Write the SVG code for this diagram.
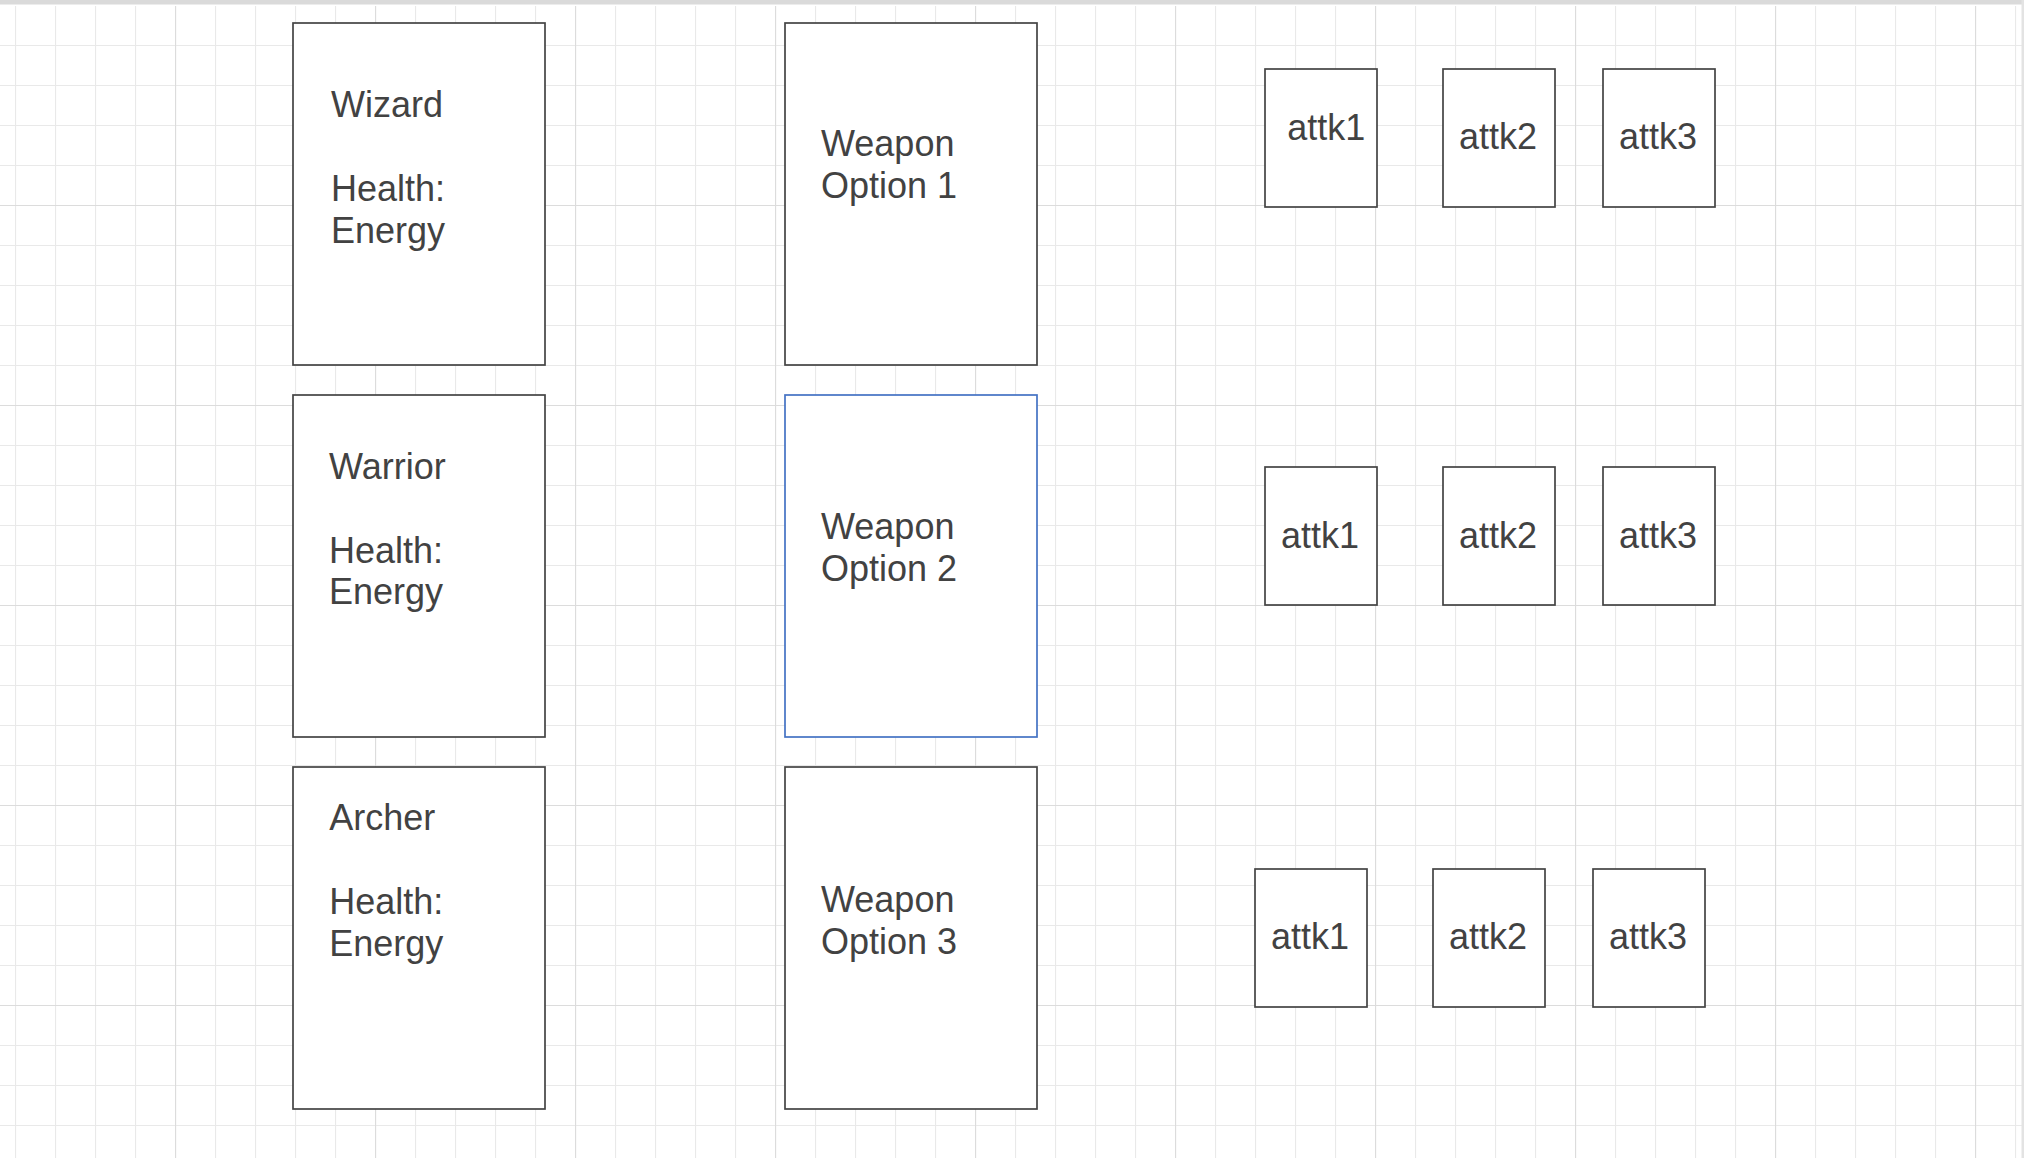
<svg xmlns="http://www.w3.org/2000/svg" width="2024" height="1158" viewBox="0 0 2024 1158">
  <style>
    .box { fill: #ffffff; stroke: #444444; stroke-width: 1.7; }
    .sel { fill: #ffffff; stroke: #4472c4; stroke-width: 1.7; }
    .lbl { font-family: "Liberation Sans", Arial, sans-serif; font-size: 36px; fill: #424242; }
  </style>
  <defs>
    <pattern id="minor" patternUnits="userSpaceOnUse" x="15" y="5" width="40" height="40">
      <path d="M0.5 0 V40 M0 0.5 H40" fill="none" stroke="#e9e9e9" stroke-width="1.2"/>
    </pattern>
    <pattern id="major" patternUnits="userSpaceOnUse" x="175" y="205" width="200" height="200">
      <path d="M0.5 0 V200 M0 0.5 H200" fill="none" stroke="#dcdcdc" stroke-width="1.2"/>
    </pattern>
  </defs>

  <rect x="0" y="0" width="2024" height="1158" fill="#ffffff"/>
  <g id="grid">
    <rect x="0" y="6" width="2024" height="1152" fill="url(#minor)"/>
    <rect x="0" y="6" width="2024" height="1152" fill="url(#major)"/>
    <rect x="0" y="0" width="2024" height="4.5" fill="#dadada"/>
    <rect x="2021.5" y="0" width="2.5" height="1158" fill="#e3e3e3"/>
  </g>

  <g id="connectors"></g>

  <g id="wizard">
    <rect class="box" x="293" y="23" width="252" height="342"/>
    <text class="lbl" x="331" y="117.3">Wizard</text>
    <text class="lbl" x="331" y="201">Health:</text>
    <text class="lbl" x="331" y="243.3">Energy</text>
  </g>
  <g id="warrior">
    <rect class="box" x="293" y="395" width="252" height="342"/>
    <text class="lbl" x="329" y="478.5">Warrior</text>
    <text class="lbl" x="329" y="562.5">Health:</text>
    <text class="lbl" x="329" y="604">Energy</text>
  </g>
  <g id="archer">
    <rect class="box" x="293" y="767" width="252" height="342"/>
    <text class="lbl" x="329.3" y="830">Archer</text>
    <text class="lbl" x="329.3" y="914">Health:</text>
    <text class="lbl" x="329.3" y="956">Energy</text>
  </g>

  <g id="weapon1">
    <rect class="box" x="785" y="23" width="252" height="342"/>
    <text class="lbl" x="821" y="156">Weapon</text>
    <text class="lbl" x="821" y="198.3">Option 1</text>
  </g>
  <g id="weapon2">
    <rect class="sel" x="785" y="395" width="252" height="342"/>
    <text class="lbl" x="821" y="539.3">Weapon</text>
    <text class="lbl" x="821" y="581.3">Option 2</text>
  </g>
  <g id="weapon3">
    <rect class="box" x="785" y="767" width="252" height="342"/>
    <text class="lbl" x="821" y="912.3">Weapon</text>
    <text class="lbl" x="821" y="954">Option 3</text>
  </g>

  <g id="r1-attk1">
    <rect class="box" x="1265" y="69" width="112" height="138"/>
    <text class="lbl" x="1287.3" y="140">attk1</text>
  </g>
  <g id="r1-attk2">
    <rect class="box" x="1443" y="69" width="112" height="138"/>
    <text class="lbl" x="1459" y="149.3">attk2</text>
  </g>
  <g id="r1-attk3">
    <rect class="box" x="1603" y="69" width="112" height="138"/>
    <text class="lbl" x="1619" y="149.3">attk3</text>
  </g>

  <g id="r2-attk1">
    <rect class="box" x="1265" y="467" width="112" height="138"/>
    <text class="lbl" x="1281" y="547.7">attk1</text>
  </g>
  <g id="r2-attk2">
    <rect class="box" x="1443" y="467" width="112" height="138"/>
    <text class="lbl" x="1459" y="547.7">attk2</text>
  </g>
  <g id="r2-attk3">
    <rect class="box" x="1603" y="467" width="112" height="138"/>
    <text class="lbl" x="1619" y="547.7">attk3</text>
  </g>

  <g id="r3-attk1">
    <rect class="box" x="1255" y="869" width="112" height="138"/>
    <text class="lbl" x="1271" y="949.3">attk1</text>
  </g>
  <g id="r3-attk2">
    <rect class="box" x="1433" y="869" width="112" height="138"/>
    <text class="lbl" x="1449" y="949.3">attk2</text>
  </g>
  <g id="r3-attk3">
    <rect class="box" x="1593" y="869" width="112" height="138"/>
    <text class="lbl" x="1609" y="949.3">attk3</text>
  </g>
</svg>
